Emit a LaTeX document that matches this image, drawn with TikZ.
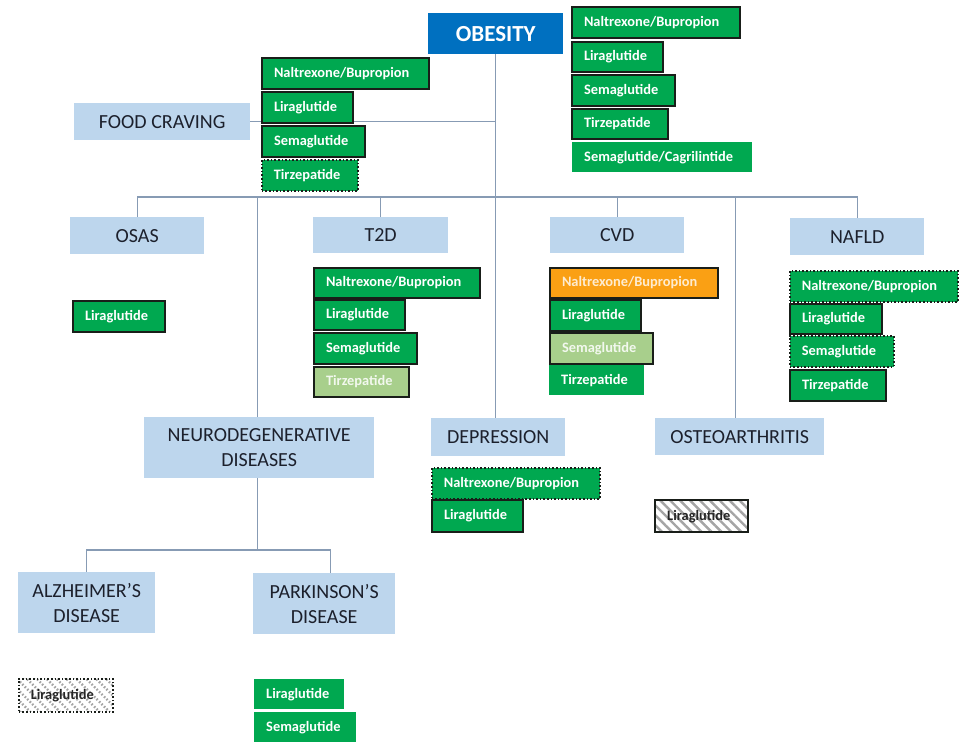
\documentclass[tikz,border=0pt]{standalone}
\usepackage{fontspec}
\setmainfont{Carlito}
\usetikzlibrary{patterns.meta}

\definecolor{obblue}{RGB}{0,112,192}
\definecolor{catblue}{RGB}{189,214,237}
\definecolor{cattext}{RGB}{28,32,44}
\definecolor{druggreen}{RGB}{0,168,80}
\definecolor{lightgreen}{RGB}{168,207,140}
\definecolor{drugorange}{RGB}{250,160,20}
\definecolor{edgedark}{RGB}{25,30,25}
\definecolor{connline}{RGB}{135,155,180}
\definecolor{hatchgray}{RGB}{165,165,165}

\begin{document}
\begin{tikzpicture}[x=1pt,y=-1pt,
  conn/.style={draw=connline, line width=1.2pt},
  catbox/.style 2 args={fill=catblue, text=cattext, inner sep=0pt, anchor=north west,
    minimum width=#1, minimum height=#2, align=center,
    font=\fontsize{20}{25}\selectfont},
  % first argument: width of the text column (box width minus 24)
  drugbox/.style 2 args={fill=druggreen, text=white, inner xsep=12pt, inner ysep=0pt,
    anchor=north west, text width=#1, align=left, minimum height=#2,
    font=\bfseries\fontsize{14.4}{16}\selectfont},
  solidedge/.style={draw=edgedark, line width=2pt},
  dottededge/.style={draw=edgedark, line width=1.6pt, dotted},
  pale/.style={fill=lightgreen, text=white!85!lightgreen},
  amber/.style={fill=drugorange, text=white!80!drugorange},
  hatched/.style={preaction={fill=white},
    pattern={Lines[angle=-45,distance=7pt,line width=2.4pt]},
    pattern color=hatchgray, text=black!85}
]
\useasboundingbox (0,0) rectangle (960,741);

% ---------- category boxes ----------
\node[fill=obblue, text=white, inner sep=0pt, anchor=north west,
      minimum width=135, minimum height=41,
      font=\bfseries\fontsize{23}{26}\selectfont] (ob) at (428,13) {OBESITY};
\node[catbox={176}{37}] (fc) at (74,103) {FOOD CRAVING};
\node[catbox={134}{37}] (osas) at (70,217) {OSAS};
\node[catbox={135}{36}] (t2d) at (313,217) {T2D};
\node[catbox={134}{36}] (cvd) at (550,217) {CVD};
\node[catbox={134}{37}] (nafld) at (790,218) {NAFLD};
\node[catbox={230}{61}] (neuro) at (144,417) {NEURODEGENERATIVE\\DISEASES};
\node[catbox={134}{38}] (dep) at (431,418) {DEPRESSION};
\node[catbox={169}{37}] (osteo) at (655,418) {OSTEOARTHRITIS};
\node[catbox={137}{61}] (alz) at (18,572) {ALZHEIMER\char"0027 S\\DISEASE};
\node[catbox={142}{61}] (park) at (253,573) {PARKINSON’S\\DISEASE};

% ---------- connectors ----------
\coordinate (bus) at (0,197);
\coordinate (nbus) at (0,550);
\draw[conn] (ob.south) -- (ob.south |- dep.north);
\draw[conn] (fc.east) -- (fc.east -| ob.south);
\draw[conn] (osas.north) -- (osas.north |- bus) -- (nafld.north |- bus) -- (nafld.north);
\draw[conn] (t2d.north) -- (t2d.north |- bus);
\draw[conn] (cvd.north) -- (cvd.north |- bus);
\draw[conn] ([xshift=-2]neuro.north) -- ([xshift=-2]neuro.north |- bus);
\draw[conn] ([xshift=-4]osteo.north) -- ([xshift=-4]osteo.north |- bus);
\draw[conn] ([xshift=-2]neuro.south) -- ([xshift=-2]neuro.south |- nbus);
\draw[conn] (alz.north) -- (alz.north |- nbus) -- ([xshift=6]park.north |- nbus) -- ([xshift=6]park.north);

% ---------- obesity ----------
\node[drugbox={144}{31}, solidedge] (ob-nb) at (571,6) {Naltrexone/Bupropion};
\node[drugbox={67}{30}, solidedge] (ob-lira) at (571,41) {Liraglutide};
\node[drugbox={79}{31}, solidedge] (ob-sema) at (571,74) {Semaglutide};
\node[drugbox={72}{30}, solidedge] (ob-tirz) at (571,108) {Tirzepatide};
\node[drugbox={156}{30}] (ob-semacag) at (572,142) {Semaglutide/Cagrilintide};

% ---------- food craving ----------
\node[drugbox={143}{31}, solidedge] (fc-nb) at (261,57) {Naltrexone/Bupropion};
\node[drugbox={67}{31}, solidedge] (fc-lira) at (261,91) {Liraglutide};
\node[drugbox={79}{31}, solidedge] (fc-sema) at (261,125) {Semaglutide};
\node[drugbox={72}{31}, dottededge] (fc-tirz) at (261,159) {Tirzepatide};

% ---------- OSAS ----------
\node[drugbox={68}{31}, solidedge] (osas-lira) at (72,300) {Liraglutide};

% ---------- T2D ----------
\node[drugbox={142}{30}, solidedge] (t2d-nb) at (313,267) {Naltrexone/Bupropion};
\node[drugbox={67}{30}, solidedge] (t2d-lira) at (313,299) {Liraglutide};
\node[drugbox={79}{31}, solidedge] (t2d-sema) at (313,332) {Semaglutide};
\node[drugbox={71}{30}, solidedge, pale] (t2d-tirz) at (313,366) {Tirzepatide};

% ---------- CVD ----------
\node[drugbox={144}{30}, solidedge, amber] (cvd-nb) at (549,267) {Naltrexone/Bupropion};
\node[drugbox={67}{31}, solidedge] (cvd-lira) at (549,299) {Liraglutide};
\node[drugbox={79}{31}, solidedge, pale] (cvd-sema) at (549,332) {Semaglutide};
\node[drugbox={71}{30}] (cvd-tirz) at (549,365) {Tirzepatide};

% ---------- NAFLD ----------
\node[drugbox={144}{31}, dottededge] (nafld-nb) at (789,270) {Naltrexone/Bupropion};
\node[drugbox={68}{30}, solidedge] (nafld-lira) at (789,303) {Liraglutide};
\node[drugbox={80}{31}, dottededge] (nafld-sema) at (789,335) {Semaglutide};
\node[drugbox={72}{31}, solidedge] (nafld-tirz) at (789,369) {Tirzepatide};

% ---------- depression ----------
\node[drugbox={144}{31}, dottededge] (dep-nb) at (431,467) {Naltrexone/Bupropion};
\node[drugbox={67}{32}, solidedge] (dep-lira) at (431,499) {Liraglutide};

% ---------- osteoarthritis ----------
\node[drugbox={69}{32}, solidedge, hatched] (osteo-lira) at (654,499) {Liraglutide};

% ---------- Alzheimer's / Parkinson's ----------
\node[drugbox={70}{33}, dottededge, hatched] (alz-lira) at (18,678) {Liraglutide};
\node[drugbox={66}{30}] (park-lira) at (254,679) {Liraglutide};
\node[drugbox={78}{30}] (park-sema) at (254,712) {Semaglutide};
\end{tikzpicture}
\end{document}
